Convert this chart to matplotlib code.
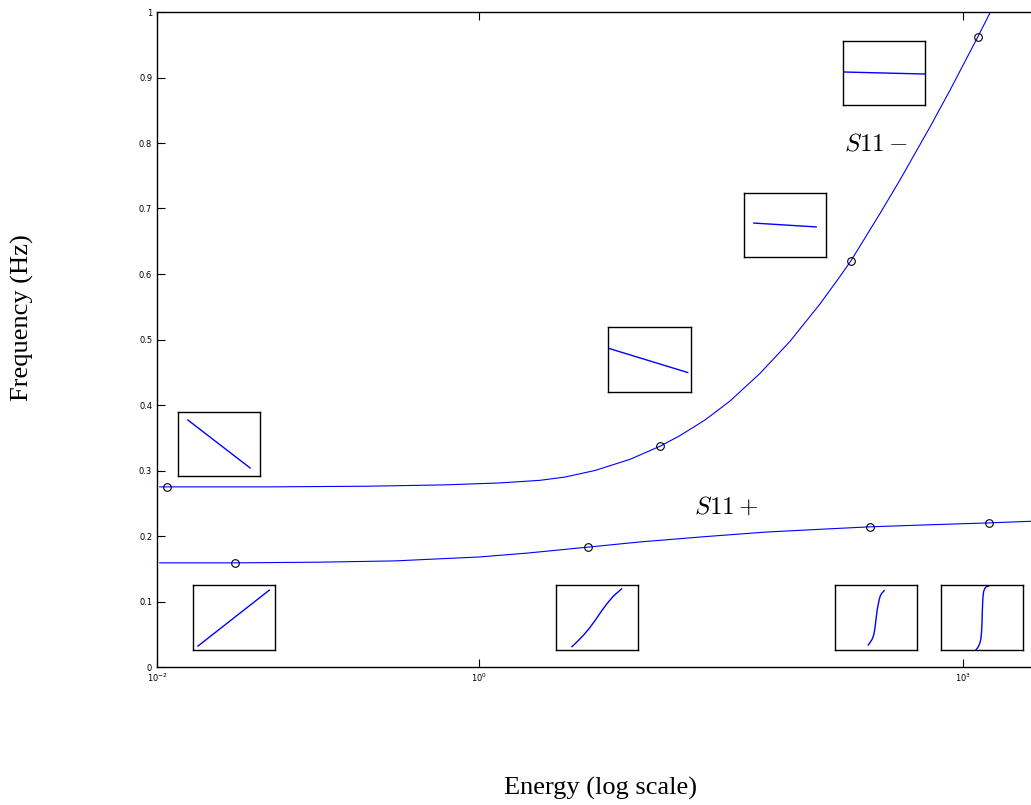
import numpy as np
import matplotlib
matplotlib.use("Agg")
import matplotlib.pyplot as plt

# main curves
e_minus = [0.0104, 0.05, 0.2, 0.6, 1.34, 2.38, 3.40, 5.21, 8.6, 13.2, 17.5, 25.1,
           35.9, 55.0, 84.5, 129.7, 172.6, 202, 305.6, 406, 624, 830, 1029, 1239, 1469]
f_minus = [0.275, 0.275, 0.276, 0.278, 0.281, 0.285, 0.290, 0.300, 0.317, 0.337,
           0.353, 0.377, 0.406, 0.448, 0.497, 0.554, 0.596, 0.620, 0.692, 0.743,
           0.824, 0.880, 0.924, 0.962, 0.998]
e_plus = [0.0104, 0.0305, 0.1, 0.3, 1.0, 2.0, 4.72, 10, 25, 60, 150, 265, 600,
          1449, 3000]
f_plus = [0.159, 0.159, 0.160, 0.162, 0.168, 0.174, 0.183, 0.191, 0.199, 0.206,
          0.211, 0.214, 0.217, 0.220, 0.223]

# marked points
pts_minus_e = [0.01153, 13.2, 202, 1239]
pts_minus_f = [0.275, 0.337, 0.620, 0.962]
pts_plus_e = [0.0305, 4.72, 265, 1449]
pts_plus_f = [0.159, 0.183, 0.214, 0.220]

# small inset curves, in inset-box fractions
inset_x = [
    [0.12, 0.88], [0.02, 0.96], [0.12, 0.88], [0.0, 1.0],
    [0.06, 0.93],
    [0.195, 0.26, 0.337, 0.41, 0.48, 0.55, 0.62, 0.70, 0.80],
    [0.405, 0.43, 0.455, 0.472, 0.485, 0.495, 0.505, 0.515, 0.527, 0.54, 0.555,
     0.575, 0.60],
    [0.425, 0.45, 0.47, 0.485, 0.495, 0.50, 0.503, 0.507, 0.512, 0.52, 0.535,
     0.555, 0.583],
]
inset_y = [
    [0.875, 0.125], [0.667, 0.30], [0.53, 0.47], [0.516, 0.484],
    [0.06, 0.92],
    [0.051, 0.13, 0.23, 0.34, 0.46, 0.59, 0.71, 0.83, 0.94],
    [0.077, 0.12, 0.17, 0.23, 0.32, 0.42, 0.52, 0.62, 0.70, 0.78, 0.84, 0.88, 0.913],
    [0.0, 0.04, 0.09, 0.16, 0.28, 0.42, 0.56, 0.70, 0.82, 0.90, 0.95, 0.975, 0.985],
]
# inset boxes in pixels: x0, y0, x1, y1 (top-left origin)
boxes = [(178, 412, 260, 476), (608, 327, 691, 392), (744, 193, 826, 257),
         (843, 41, 925, 105), (193, 585, 275, 650), (556, 585, 638, 650),
         (835, 585, 917, 650), (941, 585, 1023, 650)]

W, H = 1031, 805
fig = plt.figure(figsize=(W / 100, H / 100), dpi=100)
ax = fig.add_axes([157 / W, 138 / H, 967 / W, 655 / H])
ax.set_xscale('log')
ax.plot(e_minus, f_minus, color='blue', lw=0.8)
ax.plot(e_plus, f_plus, color='blue', lw=0.8)
ax.plot(pts_minus_e, pts_minus_f, 'o', mfc='none', mec='black', ms=5.5, mew=0.8)
ax.plot(pts_plus_e, pts_plus_f, 'o', mfc='none', mec='black', ms=5.5, mew=0.8)
ax.set_xlim(1e-2, 1e4)
ax.set_ylim(0, 1)
ax.set_xticks([1e-2, 1e0, 1e3])
ax.minorticks_off()
ax.set_yticks(np.arange(0, 1.01, 0.1))
ax.set_yticklabels(['0', '0.1', '0.2', '0.3', '0.4', '0.5', '0.6', '0.7', '0.8', '0.9', '1'])
ax.tick_params(direction='in', length=5.8, width=0.8, labelsize=6, top=True, right=True)
for s in ax.spines.values():
    s.set_linewidth(1.0)

ax.text(876, H - 143, r'$S11-$', transform=None, fontsize=18, ha='center', va='center',
        math_fontfamily='cm')
ax.text(726, H - 507, r'$S11+$', transform=None, fontsize=18, ha='center', va='center',
        math_fontfamily='cm')

for (x0, y0, x1, y1), xs, ys in zip(boxes, inset_x, inset_y):
    a = fig.add_axes([x0 / W, (H - y1) / H, (x1 - x0) / W, (y1 - y0) / H])
    a.plot(xs, ys, color='blue', lw=1.0)
    a.set_xlim(0, 1)
    a.set_ylim(0, 1)
    a.set_xticks([])
    a.set_yticks([])
    for s in a.spines.values():
        s.set_linewidth(1.0)

fig.text(600 / W, 1 - 788 / H, 'Energy (log scale)', family='Liberation Serif',
         fontsize=19, ha='center', va='center')
fig.text(22 / W, 1 - 318 / H, 'Frequency (Hz)', family='Liberation Serif',
         fontsize=19, ha='center', va='center', rotation=90)

fig.savefig('out.png', dpi=100)
